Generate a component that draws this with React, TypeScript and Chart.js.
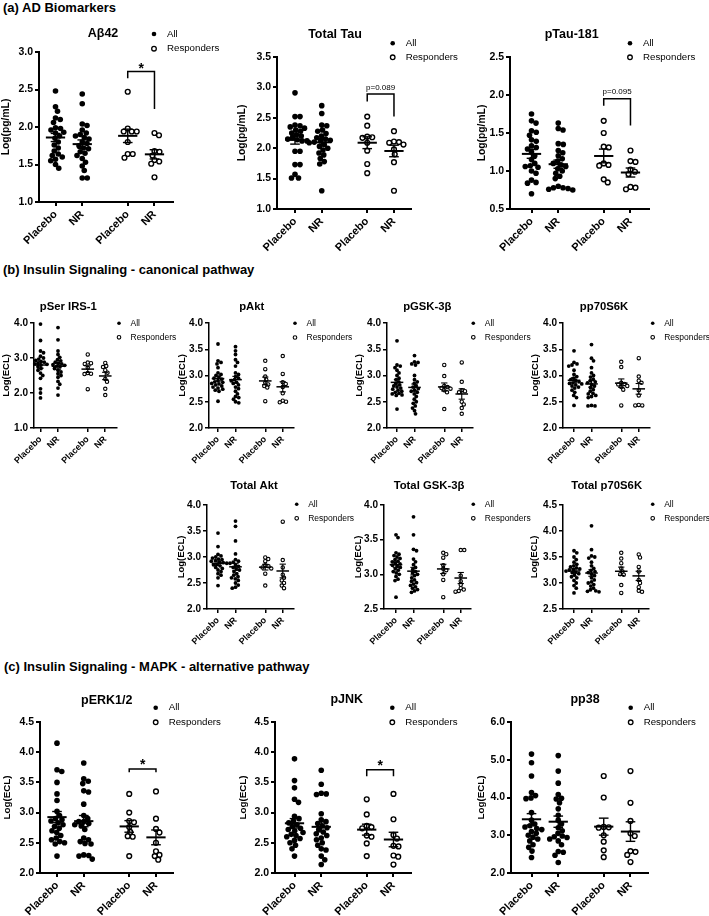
import React, { useEffect, useRef } from 'react';
import { Chart, registerables } from 'chart.js';

Chart.register(...registerables);

const FONT = '"Liberation Sans", Arial, Helvetica, sans-serif';
Chart.defaults.font.family = FONT;
Chart.defaults.color = '#000';

// Category layout (x positions of the four groups) and their tick labels
const GROUP_LABELS = ['Placebo', 'NR', 'Placebo', 'NR'];
const GROUP_X = [1, 2, 3.7, 4.7];

// ---------- (a) AD Biomarkers ----------
const ab42AllPlacebo = [2.48, 2.27, 2.21, 2.12, 2.10, 2.06, 1.99, 1.98, 1.96, 1.93, 1.92, 1.88, 1.85, 1.80, 1.76, 1.72, 1.68, 1.64, 1.62, 1.60, 1.57, 1.55, 1.50, 1.45];
const ab42AllNR = [2.44, 2.31, 2.04, 2.02, 1.96, 1.92, 1.90, 1.88, 1.86, 1.84, 1.80, 1.78, 1.75, 1.72, 1.71, 1.67, 1.65, 1.62, 1.58, 1.53, 1.48, 1.42, 1.32, 1.32];
const ab42RespPlacebo = [2.47, 1.98, 1.94, 1.94, 1.94, 1.80, 1.64, 1.64, 1.59];
const ab42RespNR = [1.92, 1.89, 1.68, 1.67, 1.62, 1.56, 1.54, 1.51, 1.33];

const tauAllPlacebo = [2.91, 2.52, 2.52, 2.38, 2.37, 2.35, 2.33, 2.30, 2.28, 2.25, 2.22, 2.20, 2.17, 2.15, 2.14, 2.12, 2.12, 1.95, 1.95, 1.73, 1.73, 1.57, 1.51, 1.51];
const tauAllNR = [2.70, 2.57, 2.38, 2.37, 2.30, 2.28, 2.24, 2.20, 2.17, 2.15, 2.13, 2.12, 2.10, 2.09, 2.06, 2.03, 2.00, 1.97, 1.92, 1.89, 1.83, 1.78, 1.74, 1.30];
const tauRespPlacebo = [2.52, 2.37, 2.19, 2.18, 2.17, 2.09, 1.96, 1.74, 1.59];
const tauRespNR = [2.28, 2.11, 2.10, 2.09, 2.06, 1.98, 1.90, 1.77, 1.30];

const ptauAllPlacebo = [1.75, 1.66, 1.63, 1.53, 1.51, 1.47, 1.41, 1.39, 1.33, 1.31, 1.29, 1.25, 1.20, 1.15, 1.10, 1.07, 1.06, 1.05, 1.00, 0.97, 0.88, 0.85, 0.84, 0.70];
const ptauAllNR = [1.63, 1.56, 1.54, 1.36, 1.35, 1.27, 1.24, 1.20, 1.16, 1.13, 1.10, 1.08, 1.06, 1.03, 1.00, 0.97, 0.93, 0.90, 0.80, 0.78, 0.78, 0.77, 0.76, 0.75];
const ptauRespPlacebo = [1.66, 1.50, 1.32, 1.31, 1.10, 1.08, 1.07, 0.89, 0.85];
const ptauRespNR = [1.27, 1.13, 1.12, 1.02, 0.99, 0.96, 0.79, 0.78, 0.76];

// ---------- (b) Insulin signaling - canonical ----------
const irs1AllPlacebo = [3.97, 3.50, 3.20, 3.15, 3.05, 3.00, 2.97, 2.93, 2.90, 2.88, 2.85, 2.83, 2.82, 2.80, 2.78, 2.75, 2.70, 2.65, 2.57, 2.50, 2.42, 2.12, 2.00, 1.86];
const irs1AllNR = [3.87, 3.52, 3.20, 3.10, 3.02, 2.95, 2.92, 2.88, 2.85, 2.83, 2.81, 2.79, 2.77, 2.75, 2.70, 2.65, 2.60, 2.55, 2.50, 2.45, 2.33, 2.25, 2.14, 1.94];
const irs1RespPlacebo = [3.10, 2.87, 2.85, 2.83, 2.72, 2.57, 2.55, 2.54, 2.11];
const irs1RespNR = [2.86, 2.77, 2.74, 2.65, 2.58, 2.40, 2.32, 2.12, 1.94];

const paktAllPlacebo = [3.60, 3.28, 3.25, 3.22, 3.15, 3.05, 3.02, 3.00, 2.97, 2.95, 2.93, 2.90, 2.88, 2.87, 2.85, 2.84, 2.82, 2.80, 2.78, 2.76, 2.74, 2.72, 2.70, 2.51];
const paktAllNR = [3.55, 3.47, 3.40, 3.30, 3.25, 3.18, 3.05, 3.02, 2.98, 2.95, 2.92, 2.90, 2.87, 2.85, 2.82, 2.78, 2.75, 2.70, 2.65, 2.60, 2.58, 2.55, 2.50, 2.48];
const paktRespPlacebo = [3.28, 3.12, 2.98, 2.92, 2.86, 2.83, 2.80, 2.77, 2.51];
const paktRespNR = [3.37, 3.03, 2.87, 2.84, 2.78, 2.66, 2.52, 2.50, 2.49];

const pgskAllPlacebo = [3.66, 3.20, 3.18, 3.15, 3.10, 3.05, 3.00, 2.95, 2.92, 2.88, 2.85, 2.82, 2.80, 2.78, 2.76, 2.74, 2.72, 2.70, 2.68, 2.66, 2.65, 2.63, 2.62, 2.36];
const pgskAllNR = [3.38, 3.26, 3.25, 3.22, 3.20, 3.00, 2.92, 2.88, 2.85, 2.80, 2.78, 2.75, 2.72, 2.70, 2.68, 2.65, 2.60, 2.55, 2.50, 2.47, 2.42, 2.38, 2.33, 2.27];
const pgskRespPlacebo = [3.20, 2.99, 2.80, 2.78, 2.76, 2.75, 2.72, 2.68, 2.36];
const pgskRespNR = [3.25, 2.88, 2.72, 2.70, 2.68, 2.50, 2.45, 2.38, 2.27];

const pp70AllPlacebo = [3.47, 3.25, 3.22, 3.20, 3.18, 3.10, 3.02, 2.98, 2.95, 2.92, 2.90, 2.88, 2.86, 2.85, 2.84, 2.82, 2.80, 2.78, 2.76, 2.72, 2.68, 2.62, 2.58, 2.43];
const pp70AllNR = [3.59, 3.33, 3.28, 3.15, 3.05, 3.00, 2.97, 2.93, 2.90, 2.88, 2.86, 2.83, 2.80, 2.77, 2.73, 2.70, 2.66, 2.65, 2.62, 2.60, 2.58, 2.43, 2.42, 2.42];
const pp70RespPlacebo = [3.26, 3.16, 2.86, 2.84, 2.83, 2.80, 2.78, 2.73, 2.43];
const pp70RespNR = [3.33, 2.98, 2.90, 2.86, 2.72, 2.62, 2.44, 2.43, 2.43];

const taktAllPlacebo = [3.46, 3.20, 3.05, 3.02, 3.00, 2.98, 2.96, 2.95, 2.93, 2.92, 2.90, 2.89, 2.88, 2.86, 2.85, 2.83, 2.80, 2.78, 2.75, 2.72, 2.68, 2.65, 2.60, 2.45];
const taktAllNR = [3.69, 3.59, 3.31, 3.06, 2.95, 2.92, 2.90, 2.88, 2.85, 2.82, 2.80, 2.77, 2.75, 2.72, 2.68, 2.65, 2.62, 2.60, 2.58, 2.55, 2.50, 2.46, 2.42, 2.40];
const taktRespPlacebo = [2.99, 2.96, 2.92, 2.84, 2.82, 2.80, 2.78, 2.68, 2.45];
const taktRespNR = [3.68, 2.94, 2.80, 2.66, 2.60, 2.55, 2.50, 2.45, 2.40];

const tgskAllPlacebo = [3.57, 3.53, 3.31, 3.29, 3.27, 3.25, 3.23, 3.21, 3.19, 3.18, 3.16, 3.15, 3.13, 3.12, 3.10, 3.08, 3.06, 3.04, 3.02, 3.00, 2.97, 2.93, 2.91, 2.67];
const tgskAllNR = [3.83, 3.57, 3.36, 3.34, 3.22, 3.18, 3.14, 3.10, 3.07, 3.04, 3.02, 3.00, 2.98, 2.95, 2.92, 2.90, 2.88, 2.86, 2.84, 2.82, 2.80, 2.78, 2.76, 2.74];
const tgskRespPlacebo = [3.31, 3.29, 3.24, 3.13, 3.08, 3.06, 3.00, 2.92, 2.67];
const tgskRespNR = [3.35, 3.35, 2.98, 2.90, 2.85, 2.80, 2.78, 2.76, 2.75];

const tp70AllPlacebo = [3.62, 3.58, 3.50, 3.45, 3.40, 3.36, 3.33, 3.31, 3.29, 3.27, 3.26, 3.25, 3.23, 3.21, 3.20, 3.18, 3.15, 3.12, 3.10, 3.05, 3.00, 2.95, 2.90, 2.81];
const tp70AllNR = [4.10, 3.64, 3.52, 3.50, 3.48, 3.40, 3.33, 3.28, 3.24, 3.22, 3.20, 3.17, 3.14, 3.10, 3.06, 3.02, 3.00, 2.97, 2.94, 2.90, 2.87, 2.85, 2.84, 2.83];
const tp70RespPlacebo = [3.58, 3.47, 3.38, 3.28, 3.22, 3.17, 3.16, 2.96, 2.81];
const tp70RespNR = [3.55, 3.49, 3.31, 3.22, 3.06, 3.00, 2.92, 2.85, 2.83];

// ---------- (c) MAPK alternative pathway ----------
const perkAllPlacebo = [4.15, 3.71, 3.68, 3.50, 3.31, 3.20, 3.02, 2.95, 2.90, 2.88, 2.86, 2.83, 2.80, 2.77, 2.74, 2.70, 2.67, 2.62, 2.58, 2.55, 2.52, 2.50, 2.48, 2.28];
const perkAllNR = [3.82, 3.56, 3.52, 3.48, 3.36, 3.34, 3.14, 2.95, 2.90, 2.85, 2.85, 2.82, 2.80, 2.78, 2.72, 2.58, 2.55, 2.52, 2.49, 2.48, 2.30, 2.29, 2.28, 2.23];
const perkRespPlacebo = [3.31, 3.00, 2.86, 2.84, 2.76, 2.68, 2.61, 2.60, 2.28];
const perkRespNR = [3.35, 2.90, 2.73, 2.67, 2.50, 2.36, 2.30, 2.28, 2.22];

const pjnkAllPlacebo = [3.89, 3.53, 3.41, 3.22, 3.17, 2.94, 2.90, 2.86, 2.83, 2.80, 2.77, 2.74, 2.72, 2.70, 2.67, 2.64, 2.62, 2.60, 2.57, 2.54, 2.50, 2.46, 2.40, 2.28];
const pjnkAllNR = [3.70, 3.47, 3.32, 3.31, 3.30, 2.98, 2.88, 2.85, 2.82, 2.78, 2.75, 2.72, 2.68, 2.65, 2.62, 2.58, 2.55, 2.50, 2.46, 2.40, 2.38, 2.28, 2.22, 2.14];
const pjnkRespPlacebo = [3.22, 2.97, 2.78, 2.76, 2.74, 2.62, 2.60, 2.49, 2.28];
const pjnkRespNR = [3.31, 2.89, 2.63, 2.57, 2.45, 2.44, 2.29, 2.27, 2.14];

const pp38AllPlacebo = [5.15, 4.92, 4.57, 4.13, 4.05, 3.99, 3.97, 3.60, 3.40, 3.30, 3.25, 3.22, 3.18, 3.15, 3.10, 3.05, 3.00, 2.95, 2.90, 2.85, 2.75, 2.68, 2.58, 2.41];
const pp38AllNR = [5.11, 4.70, 4.38, 4.08, 3.98, 3.96, 3.86, 3.70, 3.53, 3.40, 3.30, 3.20, 3.12, 3.05, 2.98, 2.96, 2.94, 2.90, 2.85, 2.75, 2.57, 2.55, 2.47, 2.28];
const pp38RespPlacebo = [4.57, 4.00, 3.22, 3.21, 3.20, 3.00, 2.83, 2.60, 2.42];
const pp38RespNR = [4.70, 3.86, 3.38, 3.05, 2.98, 2.58, 2.56, 2.48, 2.29];

// ---------- panel layout (positions in page pixels) ----------
type Bracket = { top: number; legs: [number, number]; text: string; textY: number };
type PanelCfg = {
  key: string; title: string; yTitle: string; small: boolean; yTitleSize: number;
  groups: number[][];
  labelX: number; axisX: number; axisEnd: number; top: number; bottom: number;
  ymin: number; ymax: number; step: number; catOff: number;
  titleAt: [number, number]; legendAt: [number, number, number];
  bracket?: Bracket;
};

const PANELS: PanelCfg[] = [
  { key: 'ab42', title: 'Aβ42', yTitle: 'Log(pg/mL)', small: false, yTitleSize: 10.3,
    groups: [ab42AllPlacebo, ab42AllNR, ab42RespPlacebo, ab42RespNR],
    labelX: 6, axisX: 39, axisEnd: 173, top: 51.7, bottom: 202, ymin: 1, ymax: 3, step: 0.5, catOff: 16.5,
    titleAt: [103, 34], legendAt: [154, 34, 48.7],
    bracket: { top: 2.74, legs: [2.65, 2.24], text: '*', textY: 2.82 } },
  { key: 'tau', title: 'Total Tau', yTitle: 'Log(pg/mL)', small: false, yTitleSize: 10.3,
    groups: [tauAllPlacebo, tauAllNR, tauRespPlacebo, tauRespNR],
    labelX: 241.7, axisX: 276.7, axisEnd: 411, top: 57.3, bottom: 209, ymin: 1, ymax: 3.5, step: 0.5, catOff: 18,
    titleAt: [335, 35], legendAt: [392.7, 43.3, 57.3],
    bracket: { top: 2.89, legs: [2.77, 2.52], text: 'p=0.089', textY: 2.99 } },
  { key: 'ptau', title: 'pTau-181', yTitle: 'Log(pg/mL)', small: false, yTitleSize: 10.3,
    groups: [ptauAllPlacebo, ptauAllNR, ptauRespPlacebo, ptauRespNR],
    labelX: 481.7, axisX: 510, axisEnd: 649, top: 57.3, bottom: 209, ymin: 0.5, ymax: 2.5, step: 0.5, catOff: 21.5,
    titleAt: [571.7, 35], legendAt: [630, 43.3, 57.3],
    bracket: { top: 1.95, legs: [1.86, 1.60], text: 'p=0.095', textY: 2.04 } },

  { key: 'irs1', title: 'pSer IRS-1', yTitle: 'Log(ECL)', small: true, yTitleSize: 9.5,
    groups: [irs1AllPlacebo, irs1AllNR, irs1RespPlacebo, irs1RespNR],
    labelX: 6.7, axisX: 34.3, axisEnd: 116.7, top: 323.3, bottom: 427.7, ymin: 1, ymax: 4, step: 1, catOff: 6.5,
    titleAt: [68.3, 306.7], legendAt: [119, 323.3, 337.3] },
  { key: 'pakt', title: 'pAkt', yTitle: 'Log(ECL)', small: true, yTitleSize: 9.5,
    groups: [paktAllPlacebo, paktAllNR, paktRespPlacebo, paktRespNR],
    labelX: 182.3, axisX: 209.3, axisEnd: 294.3, top: 323.3, bottom: 427.7, ymin: 2, ymax: 4, step: 0.5, catOff: 9,
    titleAt: [251.7, 306.7], legendAt: [295, 323.3, 337.5] },
  { key: 'pgsk', title: 'pGSK-3β', yTitle: 'Log(ECL)', small: true, yTitleSize: 9.5,
    groups: [pgskAllPlacebo, pgskAllNR, pgskRespPlacebo, pgskRespNR],
    labelX: 360, axisX: 386.7, axisEnd: 473.3, top: 323.3, bottom: 427.7, ymin: 2, ymax: 4, step: 0.5, catOff: 10,
    titleAt: [427.3, 306.7], legendAt: [473.3, 323.3, 337.3] },
  { key: 'pp70', title: 'pp70S6K', yTitle: 'Log(ECL)', small: true, yTitleSize: 9.5,
    groups: [pp70AllPlacebo, pp70AllNR, pp70RespPlacebo, pp70RespNR],
    labelX: 535.7, axisX: 563.3, axisEnd: 650, top: 323.3, bottom: 427.7, ymin: 2, ymax: 4, step: 0.5, catOff: 11,
    titleAt: [604, 306.7], legendAt: [652.7, 323.3, 337.3] },

  { key: 'takt', title: 'Total Akt', yTitle: 'Log(ECL)', small: true, yTitleSize: 9.5,
    groups: [taktAllPlacebo, taktAllNR, taktRespPlacebo, taktRespNR],
    labelX: 181.7, axisX: 207.3, axisEnd: 294.3, top: 505, bottom: 609.3, ymin: 2, ymax: 4, step: 0.5, catOff: 11,
    titleAt: [254, 486], legendAt: [296.7, 504.3, 518.3] },
  { key: 'tgsk', title: 'Total GSK-3β', yTitle: 'Log(ECL)', small: true, yTitleSize: 9.5,
    groups: [tgskAllPlacebo, tgskAllNR, tgskRespPlacebo, tgskRespNR],
    labelX: 359, axisX: 384.3, axisEnd: 471, top: 505, bottom: 609.3, ymin: 2.5, ymax: 4, step: 0.5, catOff: 12,
    titleAt: [429, 486], legendAt: [473.3, 504.3, 518.3] },
  { key: 'tp70', title: 'Total p70S6K', yTitle: 'Log(ECL)', small: true, yTitleSize: 9.5,
    groups: [tp70AllPlacebo, tp70AllNR, tp70RespPlacebo, tp70RespNR],
    labelX: 535, axisX: 563.3, axisEnd: 649, top: 505, bottom: 609.3, ymin: 2.5, ymax: 4.5, step: 0.5, catOff: 11,
    titleAt: [606.7, 486], legendAt: [652.7, 504.3, 518.3] },

  { key: 'perk', title: 'pERK1/2', yTitle: 'Log(ECL)', small: false, yTitleSize: 9.8,
    groups: [perkAllPlacebo, perkAllNR, perkRespPlacebo, perkRespNR],
    labelX: 6.7, axisX: 40, axisEnd: 172.7, top: 722.3, bottom: 872.7, ymin: 2, ymax: 4.5, step: 0.5, catOff: 17,
    titleAt: [106.7, 700.7], legendAt: [155.7, 707.7, 722.3],
    bracket: { top: 3.72, legs: [3.67, 3.67], text: '*', textY: 3.835 } },
  { key: 'pjnk', title: 'pJNK', yTitle: 'Log(ECL)', small: false, yTitleSize: 9.8,
    groups: [pjnkAllPlacebo, pjnkAllNR, pjnkRespPlacebo, pjnkRespNR],
    labelX: 243.3, axisX: 275, axisEnd: 410.7, top: 722.3, bottom: 872.7, ymin: 2, ymax: 4.5, step: 0.5, catOff: 19.5,
    titleAt: [346.7, 699.3], legendAt: [392.3, 707.7, 722.3],
    bracket: { top: 3.71, legs: [3.60, 3.60], text: '*', textY: 3.82 } },
  { key: 'pp38', title: 'pp38', yTitle: 'Log(ECL)', small: false, yTitleSize: 9.8,
    groups: [pp38AllPlacebo, pp38AllNR, pp38RespPlacebo, pp38RespNR],
    labelX: 481, axisX: 510.7, axisEnd: 648.3, top: 722.3, bottom: 872.7, ymin: 2, ymax: 6, step: 1, catOff: 20.5,
    titleAt: [585, 699.3], legendAt: [630.7, 707.7, 722.3] },
];

const PAD_TOP = 34;

function geom(c: PanelCfg) {
  const u = c.small ? 17.5 : 26.75;
  const left = Math.round(c.labelX - 0.6 * c.yTitleSize);
  const ax = Math.round(c.axisX);
  const ae = Math.round(c.axisEnd);
  const pt = Math.round(c.top);
  const pb = Math.round(c.bottom);
  const wy = ax - left;
  const padRight = c.small ? 62 : 52;
  const hx = c.small ? 40 : 48;
  const plotW = ae - ax;
  const plotH = pb - pt;
  return { u, left, top: pt - PAD_TOP, wy, padRight, hx, plotW, plotH,
    width: wy + plotW + padRight, height: PAD_TOP + plotH + hx };
}

const mean = (a: number[]) => a.reduce((s, v) => s + v, 0) / a.length;
const sem = (a: number[]) => {
  const m = mean(a);
  const sd = Math.sqrt(a.reduce((s, v) => s + (v - m) * (v - m), 0) / (a.length - 1));
  return sd / Math.sqrt(a.length);
};

// deterministic beeswarm spreading of the values around their category
function swarm(vals: number[], cx: number, pxX: number, pxY: number, d: number) {
  const placed: { x: number; y: number }[] = [];
  return vals.map((v) => {
    const py = v * pxY;
    let off = 0;
    for (let k = 0; k < 800; k++) {
      const cand = (k % 2 === 1 ? 1 : -1) * Math.ceil(k / 2) * 0.25;
      if (placed.every((p) => Math.hypot(p.x - cand, p.y - py) >= d)) { off = cand; break; }
    }
    placed.push({ x: off, y: py });
    return { x: cx + off / pxX, y: v };
  });
}

function decor(c: PanelCfg, g: ReturnType<typeof geom>) {
  return {
    id: 'decor_' + c.key,
    afterDatasetsDraw(chart: any) {
      const { ctx } = chart;
      const xs = chart.scales.x;
      const ys = chart.scales.y;
      const X = (v: number) => xs.getPixelForValue(v);
      const Y = (v: number) => ys.getPixelForValue(v);
      const seg = (x1: number, y1: number, x2: number, y2: number) => {
        ctx.beginPath(); ctx.moveTo(x1, y1); ctx.lineTo(x2, y2); ctx.stroke();
      };
      ctx.save();
      ctx.strokeStyle = '#000';
      ctx.fillStyle = '#000';
      ctx.lineCap = 'butt';
      // mean ± SEM
      c.groups.forEach((vals, gi) => {
        const m = mean(vals);
        const se = sem(vals);
        const cx = GROUP_X[gi];
        ctx.lineWidth = c.small ? 1.5 : 2;
        seg(X(cx - 0.36), Y(m), X(cx + 0.36), Y(m));
        ctx.lineWidth = c.small ? 1.1 : 1.4;
        seg(X(cx), Y(m - se), X(cx), Y(m + se));
        seg(X(cx - 0.18), Y(m + se), X(cx + 0.18), Y(m + se));
        seg(X(cx - 0.18), Y(m - se), X(cx + 0.18), Y(m - se));
      });
      // significance bracket
      if (c.bracket) {
        const b = c.bracket;
        const x1 = X(GROUP_X[2]);
        const x2 = X(GROUP_X[3]);
        const yt = Y(b.top);
        ctx.lineWidth = 1.5;
        ctx.beginPath();
        ctx.moveTo(x1, Y(b.legs[0]));
        ctx.lineTo(x1, yt);
        ctx.lineTo(x2, yt);
        ctx.lineTo(x2, Y(b.legs[1]));
        ctx.stroke();
        const star = b.text === '*';
        ctx.font = star ? `bold 14px ${FONT}` : `8px ${FONT}`;
        ctx.textAlign = 'center';
        ctx.textBaseline = 'middle';
        ctx.fillText(b.text, (x1 + x2) / 2, Y(b.textY) + (star ? 3.2 : 0));
      }
      // title
      ctx.font = `bold ${c.small ? 11.3 : 12.5}px ${FONT}`;
      ctx.textAlign = 'center';
      ctx.textBaseline = 'middle';
      ctx.fillText(c.title, c.titleAt[0] - g.left, c.titleAt[1] - g.top);
      // legend
      const lx = c.legendAt[0] - g.left;
      const y1 = c.legendAt[1] - g.top;
      const y2 = c.legendAt[2] - g.top;
      const rl = c.small ? 1.8 : 2.3;
      ctx.beginPath(); ctx.arc(lx, y1, rl, 0, Math.PI * 2); ctx.fill();
      ctx.beginPath(); ctx.arc(lx, y2, rl, 0, Math.PI * 2);
      ctx.fillStyle = '#fff'; ctx.fill();
      ctx.lineWidth = c.small ? 1.1 : 1.3; ctx.stroke();
      ctx.fillStyle = '#000';
      ctx.font = `${c.small ? 8.5 : 9.7}px ${FONT}`;
      ctx.textAlign = 'left';
      const tdx = c.small ? 11.5 : 13;
      ctx.fillText('All', lx + tdx, y1);
      ctx.fillText('Responders', lx + tdx, y2);
      ctx.restore();
    },
  };
}

function Panel({ cfg }: { cfg: PanelCfg }) {
  const ref = useRef<HTMLCanvasElement>(null);
  const g = geom(cfg);
  useEffect(() => {
    if (!ref.current) return;
    const small = cfg.small;
    const xmin = 1 - cfg.catOff / g.u;
    const xmax = xmin + g.plotW / g.u;
    const pxY = g.plotH / (cfg.ymax - cfg.ymin);
    const rFill = small ? 1.9 : 2.8;
    const rOpen = small ? 1.7 : 2.4;
    const bwOpen = small ? 1.1 : 1.4;
    const d = small ? 3.3 : 4.9;
    const lw = small ? 1.5 : 2;
    const datasets = cfg.groups.map((vals, gi) => ({
      label: (gi < 2 ? 'All ' : 'Responders ') + GROUP_LABELS[gi],
      data: swarm(vals, GROUP_X[gi], g.u, pxY, d),
      pointRadius: gi < 2 ? rFill : rOpen,
      pointHoverRadius: gi < 2 ? rFill : rOpen,
      pointBackgroundColor: gi < 2 ? '#000' : '#fff',
      pointBorderColor: '#000',
      pointBorderWidth: gi < 2 ? 0 : bwOpen,
      showLine: false,
      clip: false as any,
    }));
    const chart = new Chart(ref.current, {
      type: 'scatter',
      data: { datasets },
      options: {
        responsive: false,
        animation: false,
        events: [],
        devicePixelRatio: 1,
        layout: { padding: { left: 0, top: PAD_TOP, right: g.padRight, bottom: 0 }, autoPadding: false },
        plugins: { legend: { display: false }, tooltip: { enabled: false }, title: { display: false } },
        scales: {
          x: {
            type: 'linear',
            min: xmin,
            max: xmax,
            afterBuildTicks: (s: any) => { s.ticks = GROUP_X.map((v) => ({ value: v })); },
            afterFit: (s: any) => { s.height = g.hx; s.paddingLeft = 0; s.paddingRight = 0; },
            ticks: {
              autoSkip: false, minRotation: 45, maxRotation: 45, padding: 2, color: '#000',
              font: { size: small ? 9 : 11, weight: 'bold' },
              callback: (_v: any, i: number) => GROUP_LABELS[i] ?? '',
            },
            grid: { display: true, drawOnChartArea: false, drawTicks: true, tickLength: 4, color: '#000', lineWidth: lw },
            border: { display: true, color: '#000', width: lw },
          },
          y: {
            type: 'linear',
            min: cfg.ymin,
            max: cfg.ymax,
            afterFit: (s: any) => { s.width = g.wy; s.paddingTop = 0; s.paddingBottom = 0; },
            ticks: {
              stepSize: cfg.step, padding: 2, color: '#000',
              font: { size: small ? 10 : 10.5, weight: 'bold' },
              callback: (v: any) => Number(v).toFixed(1),
            },
            title: { display: true, text: cfg.yTitle, color: '#000', padding: 0,
              font: { size: cfg.yTitleSize, weight: 'bold' } },
            grid: { display: true, drawOnChartArea: false, drawTicks: true, tickLength: 4, color: '#000', lineWidth: lw },
            border: { display: true, color: '#000', width: lw },
          },
        },
      } as any,
      plugins: [decor(cfg, g) as any],
    });
    return () => chart.destroy();
  }, []);
  return (
    <canvas
      ref={ref}
      width={g.width}
      height={g.height}
      style={{ position: 'absolute', left: g.left, top: g.top, width: g.width, height: g.height }}
    />
  );
}

const SECTIONS = [
  { text: '(a) AD Biomarkers', x: 3, y: 7.5 },
  { text: '(b) Insulin Signaling - canonical pathway', x: 3, y: 269 },
  { text: '(c) Insulin Signaling - MAPK - alternative pathway', x: 4, y: 666.7 },
];

export default function App() {
  return (
    <div style={{ position: 'absolute', left: 0, top: 0, width: 709, height: 916, overflow: 'hidden', background: '#fff', fontFamily: FONT }}>
      {SECTIONS.map((s) => (
        <div key={s.text} style={{ position: 'absolute', left: s.x, top: s.y - 6.4, fontSize: 13, fontWeight: 'bold', lineHeight: 1, whiteSpace: 'nowrap', color: '#000' }}>
          {s.text}
        </div>
      ))}
      {PANELS.map((p) => <Panel key={p.key} cfg={p} />)}
    </div>
  );
}
